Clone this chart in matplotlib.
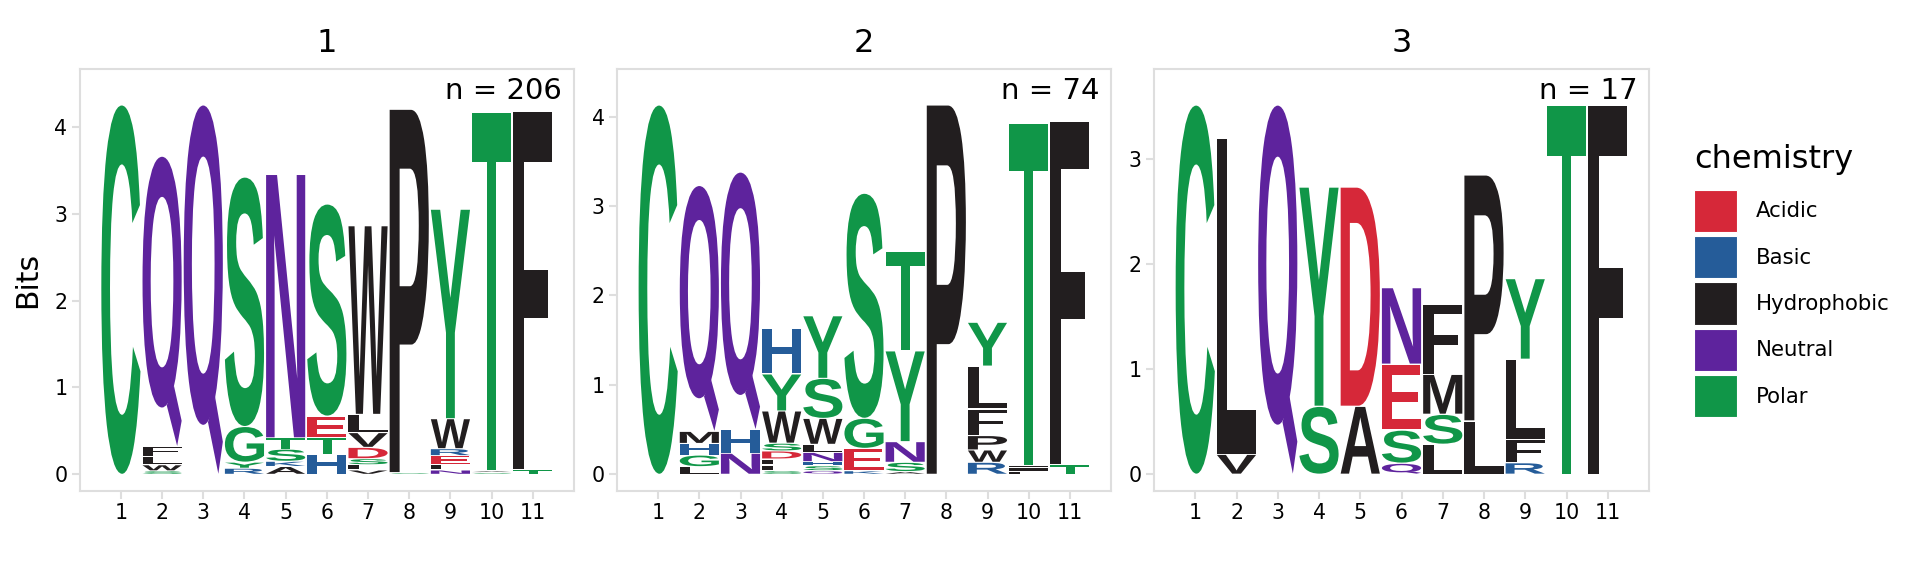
import matplotlib
matplotlib.use("Agg")
import matplotlib.pyplot as plt
from matplotlib.textpath import TextPath
from matplotlib.patches import PathPatch, Patch
from matplotlib.path import Path
from matplotlib.font_manager import FontProperties
from matplotlib.transforms import Affine2D

W, H = 1920, 576
panel_titles = ["1", "2", "3"]
panel_counts = ["n = 206", "n = 74", "n = 17"]
positions = list(range(1, 12))
chemistry = ["Acidic", "Basic", "Hydrophobic", "Neutral", "Polar"]
chem_colors = ["#D62839", "#255C99", "#221E1F", "#5E239D", "#109648"]
chem_letters = ["DE", "HKR", "AFILMPVW", "NQ", "CGSTY"]

# letters per position, bottom to top of each stack
letters_1 = ["C", "SWLFQ", "Q", "RYGS", "AKSTN", "HTES", "VLSDVLW", "SP", "NLERWY", "SAT", "TF"]
bits_1 = [[4.25], [.04, .07, .09, .12, 3.34], [4.25], [.07, .07, .41, 2.87],
          [.09, .06, .14, .13, 3.03], [.23, .19, .25, 2.44],
          [.05, .06, .07, .13, .17, .21, 2.17], [.02, 4.18],
          [.05, .065, .10, .08, .345, 2.41], [.02, .02, 4.125], [.05, 4.12]]

letters_2 = ["C", "LGHMQ", "NHQ", "SLFDSWYH", "QSHNLWSY", "KEGS", "ASNYT", "P", "RWPFLY", "LILT", "TF"]
bits_2 = [[4.13], [.085, .13, .13, .135, 2.75], [.235, .265, 2.88],
          [.04, .064, .067, .09, .087, .36, .414, .511],
          [.04, .056, .045, .104, .09, .29, .448, .70],
          [.04, .25, .336, 2.517], [.03, .104, .231, 1.015, 1.11], [4.13],
          [.134, .138, .161, .297, .48, .49], [.03, .05, .02, 3.825], [.105, 3.845]]

letters_3 = ["C", "VL", "Q", "SY", "AD", "QSEN", "LSMF", "LP", "RFLY", "T", "F"]
bits_3 = [[3.51], [.19, 3.0], [3.51], [.646, 2.084], [.646, 2.084],
          [.105, .315, .626, .728], [.285, .285, .38, .666], [.507, 2.338],
          [.11, .223, .76, .767], [3.51], [3.51]]

y_ticks = [[0, 1, 2, 3, 4], [0, 1, 2, 3, 4], [0, 1, 2, 3]]
y_limits = [(-0.192, 4.664), (-0.187, 4.533), (-0.159, 3.852)]
panel_px = [(79.7, 574), (617, 1111), (1154, 1649)]
TOP, BOTTOM = 69, 491
GRID = "#DEDEDE"

font = FontProperties(family="Liberation Sans", weight="bold")
color_of = {}
for group, col in zip(chem_letters, chem_colors):
    for ch in group:
        color_of[ch] = col

# glyph outlines in the unit box, for letters the font draws differently
UNIT_GLYPHS = {
    "T": [(0, 1), (1, 1), (1, .862), (.62, .862), (.62, 0), (.39, 0), (.39, .862), (0, .862)],
    "F": [(0, 0), (0, 1), (1, 1), (1, .862), (.28, .862), (.28, .56), (.90, .56), (.90, .423),
          (.28, .423), (.28, 0)],
    "L": [(0, 0), (0, 1), (.27, 1), (.27, .138), (1, .138), (1, 0)],
}
Q_TAIL = [(.62, .14), (.885, 0), (1, .087), (.80, .21)]
Q_BOWL_BOTTOM = 0.133


def unit_paths(ch):
    """Paths of one letter, normalised to the unit square."""
    if ch in UNIT_GLYPHS:
        pts = UNIT_GLYPHS[ch]
        return [Path(pts + [pts[0]], closed=True)]
    base = "O" if ch == "Q" else ch
    path = TextPath((0, 0), base, size=1, prop=font)
    ext = path.get_extents()
    y_min = Q_BOWL_BOTTOM if ch == "Q" else 0
    tr = (Affine2D().translate(-ext.x0, -ext.y0)
          .scale(1 / ext.width, (1 - y_min) / ext.height).translate(0, y_min))
    out = [tr.transform_path(path)]
    if ch == "Q":
        out.append(Path(Q_TAIL + [Q_TAIL[0]], closed=True))
    return out


def draw_letter(ax, ch, x, y0, y1, width=0.95):
    tr = Affine2D().scale(width, y1 - y0).translate(x - width / 2, y0)
    for p in unit_paths(ch):
        ax.add_patch(PathPatch(tr.transform_path(p), fc=color_of[ch], ec="none", lw=0))


fig = plt.figure(figsize=(W / 100, H / 100), dpi=100, facecolor="white")
gap = 0.012
stacks = [(letters_1, bits_1), (letters_2, bits_2), (letters_3, bits_3)]
for i, (letters, bits) in enumerate(stacks):
    x0, x1 = panel_px[i]
    ax = fig.add_axes([x0 / W, 1 - BOTTOM / H, (x1 - x0) / W, (BOTTOM - TOP) / H])
    for pos, word, vals in zip(positions, letters, bits):
        y = 0.0
        for ch, v in zip(word, vals):
            draw_letter(ax, ch, pos, y + gap / 2, y + v - gap / 2)
            y += v
    ax.set_xlim(0, 12)
    ax.set_ylim(*y_limits[i])
    ax.set_xticks(positions)
    ax.set_yticks(y_ticks[i])
    ax.tick_params(axis="both", length=5.8, width=1.5, color=GRID, labelsize=14.8, pad=3)
    for s in ax.spines.values():
        s.set_color(GRID)
        s.set_linewidth(1.5)
    ax.set_title(panel_titles[i], fontsize=23, pad=12)
    ax.annotate(panel_counts[i], xy=(1, 1), xycoords="axes fraction", xytext=(-8.5, -16),
                textcoords="offset points", ha="right", va="center", fontsize=21)
    if i == 0:
        ax.set_ylabel("Bits", fontsize=21.5, labelpad=8.5)

handles = [Patch(fc=c, ec="white", lw=0.8) for c in chem_colors]
leg = fig.legend(handles, chemistry, title="chemistry", loc="upper left",
                 bbox_to_anchor=(1694 / W, 1 - 144 / H), frameon=False, fontsize=15.3,
                 title_fontsize=23, handlelength=2.0, handleheight=2.70,
                 labelspacing=0.18, handletextpad=0.9, borderpad=0, borderaxespad=0,
                 alignment="left")
leg._legend_box.sep = 10.5
fig.savefig("out.png", dpi=100)
